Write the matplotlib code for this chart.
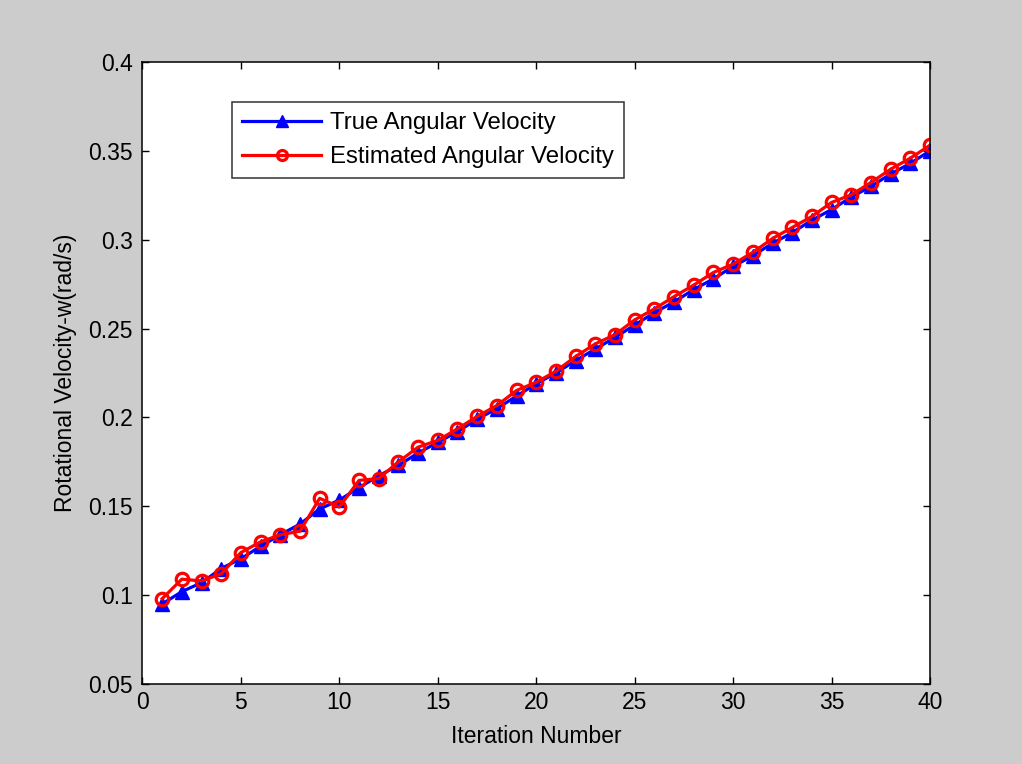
import matplotlib
matplotlib.use('Agg')
import matplotlib.pyplot as plt
from matplotlib.ticker import FuncFormatter, MultipleLocator

# data
iterations = list(range(1, 41))
true_w = [0.095, 0.102, 0.107, 0.115, 0.1205, 0.1275, 0.134, 0.140, 0.1485, 0.1535,
          0.1605, 0.1672, 0.173, 0.180, 0.186, 0.192, 0.199, 0.205, 0.212, 0.219,
          0.225, 0.232, 0.2385, 0.245, 0.252, 0.259, 0.265, 0.272, 0.278, 0.285,
          0.291, 0.298, 0.304, 0.311, 0.317, 0.324, 0.330, 0.337, 0.343, 0.350]
est_w = [0.098, 0.109, 0.108, 0.112, 0.124, 0.130, 0.134, 0.136, 0.1545, 0.1496,
         0.1646, 0.1656, 0.175, 0.1833, 0.1871, 0.1936, 0.2006, 0.2067, 0.2152, 0.2198,
         0.226, 0.2343, 0.2414, 0.2466, 0.2549, 0.2611, 0.268, 0.2745, 0.2816, 0.2863,
         0.2929, 0.3007, 0.3069, 0.3131, 0.321, 0.3253, 0.3322, 0.3397, 0.3459, 0.3532]
labels = ['True Angular Velocity', 'Estimated Angular Velocity']

plt.rcParams['font.family'] = ['Liberation Sans', 'DejaVu Sans']
fs = 16.5

fig = plt.figure(figsize=(10.22, 7.64), dpi=100, facecolor='#cccccc')
ax = fig.add_axes([0.1394, 0.1047, 0.910 - 0.1394, 0.9188 - 0.1047])

ax.plot(iterations, true_w, color='#0000ff', lw=2.3, marker='^', ms=10,
        mfc='#0000ff', mec='#0000ff', label=labels[0])
ax.plot(iterations, est_w, color='#ff0000', lw=2.3, marker='o', ms=9,
        mfc='none', mec='#ff0000', mew=2.3, label=labels[1])

ax.set_xlim(0, 40)
ax.set_ylim(0.05, 0.4)
ax.xaxis.set_major_locator(MultipleLocator(5))
ax.yaxis.set_major_locator(MultipleLocator(0.05))
ax.yaxis.set_major_formatter(FuncFormatter(lambda v, p: '%g' % round(v, 3)))
ax.tick_params(direction='in', top=True, right=True, length=5, width=1,
               labelsize=fs)
ax.tick_params(axis='x', pad=5)
ax.tick_params(axis='y', pad=7)
for s in ax.spines.values():
    s.set_linewidth(1.1)

ax.set_xlabel('Iteration Number', fontsize=fs, labelpad=8)
ax.set_ylabel('Rotational Velocity-w(rad/s)', fontsize=fs, labelpad=8)

leg = ax.legend(loc='upper left', bbox_to_anchor=(232 / 1022, 1 - 102 / 764),
                bbox_transform=fig.transFigure, fontsize=17.3, frameon=True,
                fancybox=False, shadow=False, borderaxespad=0, borderpad=0.42,
                handlelength=3.3, handletextpad=0.35, labelspacing=0.5,
                markerscale=0.8)
leg.get_frame().set_edgecolor('black')
leg.get_frame().set_linewidth(1.1)

fig.savefig('out.png', dpi=100, facecolor=fig.get_facecolor())
